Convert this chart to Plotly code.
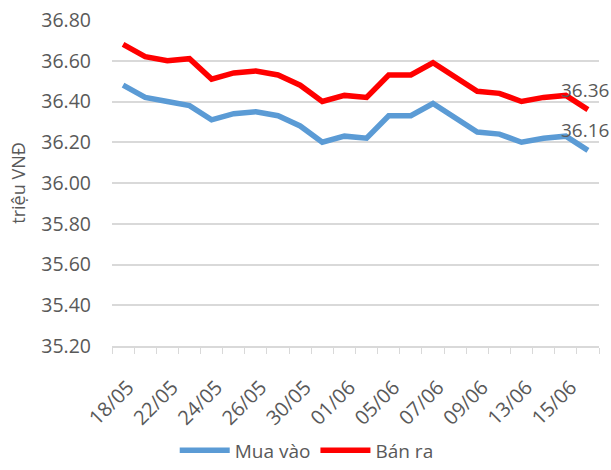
import plotly.graph_objects as go

dates = ["18/05", "19/05", "22/05", "23/05", "24/05", "25/05", "26/05", "29/05",
         "30/05", "31/05", "01/06", "02/06", "05/06", "06/06", "07/06", "08/06",
         "09/06", "12/06", "13/06", "14/06", "15/06", "16/06"]
mua_vao = [36.48, 36.42, 36.40, 36.38, 36.31, 36.34, 36.35, 36.33, 36.28, 36.20, 36.23,
           36.22, 36.33, 36.33, 36.39, 36.32, 36.25, 36.24, 36.20, 36.22, 36.23, 36.16]
ban_ra = [36.68, 36.62, 36.60, 36.61, 36.51, 36.54, 36.55, 36.53, 36.48, 36.40, 36.43,
          36.42, 36.53, 36.53, 36.59, 36.52, 36.45, 36.44, 36.40, 36.42, 36.43, 36.36]
tick_labels = [d if i % 2 == 0 else "" for i, d in enumerate(dates)]
y_ticks = [35.2, 35.4, 35.6, 35.8, 36.0, 36.2, 36.4, 36.6, 36.8]

FONT = "Open Sans"
GREY = "#595959"

fig = go.Figure()
fig.add_trace(go.Scatter(
    x=dates, y=mua_vao, name="Mua vào", mode="lines",
    line=dict(color="#5b9bd5", width=5.5),
))
fig.add_trace(go.Scatter(
    x=dates, y=ban_ra, name="Bán ra", mode="lines",
    line=dict(color="#ff0000", width=5.5),
))

# data labels on the last point of each series
for series in (mua_vao, ban_ra):
    fig.add_annotation(
        x=dates[-1], y=series[-1], text=f"{series[-1]:.2f}",
        showarrow=False, xanchor="center", yanchor="bottom",
        xshift=-3, yshift=5,
        font=dict(family=FONT, size=19, color=GREY),
    )

fig.update_layout(
    width=611, height=470,
    margin=dict(l=112, r=12, t=20, b=124, autoexpand=False),
    paper_bgcolor="white", plot_bgcolor="white",
    font=dict(family=FONT, size=19, color=GREY),
    showlegend=True,
    legend=dict(orientation="h", xref="container", yref="paper",
                x=0.502, xanchor="center", y=-0.32, yanchor="middle",
                font=dict(size=19, color=GREY), itemwidth=50),
    xaxis=dict(
        type="category", range=[-0.5, len(dates) - 0.5],
        tickmode="array", tickvals=dates, ticktext=tick_labels,
        tickangle=-45, tickson="boundaries", ticks="outside", ticklen=6,
        tickcolor="#d9d9d9", showline=True, linecolor="#d9d9d9", linewidth=1.5,
        showgrid=False, tickfont=dict(size=20, color=GREY), automargin=False,
        ticklabelstandoff=20, ticklabelshift=5,
    ),
    yaxis=dict(
        range=[35.2, 36.8], tickmode="array", tickvals=y_ticks,
        ticktext=[f"{v:.2f}" for v in y_ticks],
        showgrid=True, gridcolor="#d9d9d9", gridwidth=1.5, zeroline=False,
        tickfont=dict(size=19.5, color=GREY), ticklabelstandoff=20,
        title=dict(text="triệu VNĐ", font=dict(size=18, color=GREY), standoff=10),
        automargin=False,
    ),
)

fig.write_html("out.html", config={"displayModeBar": False},
               post_script="document.body.style.margin='0';")
